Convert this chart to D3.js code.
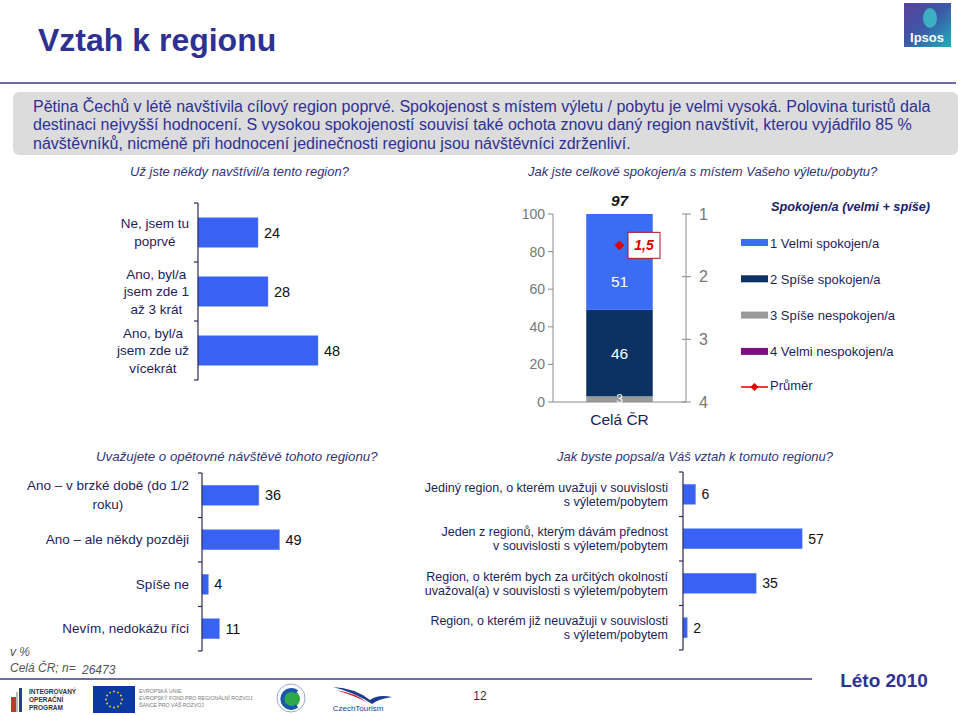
<!DOCTYPE html>
<html><head><meta charset="utf-8">
<script src="https://cdn.jsdelivr.net/npm/d3@7"></script>
<style>
body{margin:0;background:#fff;}
svg{display:block;font-family:"Liberation Sans",Arial,sans-serif;}
</style></head>
<body>
<svg id="c" width="960" height="715"></svg>
<script>
// ---------- DATA ----------
const titleText = "Vztah k regionu";
const introLines = [
  "Pětina Čechů v létě navštívila cílový region poprvé. Spokojenost s místem výletu / pobytu je velmi vysoká. Polovina turistů dala",
  "destinaci nejvyšší hodnocení. S vysokou spokojeností souvisí také ochota znovu daný region navštívit, kterou vyjádřilo 85 %",
  "návštěvníků, nicméně při hodnocení jedinečnosti regionu jsou návštěvníci zdrženliví."
];

const q1Title = "Už jste někdy navštívil/a tento region?";
const q1Cats = [["Ne, jsem tu","poprvé"],["Ano, byl/a","jsem zde 1","až 3 krát"],["Ano, byl/a","jsem zde už","vícekrát"]];
const q1Vals = [24, 28, 48];

const q2Title = "Jak jste celkově spokojen/a s místem Vašeho výletu/pobytu?";
const q2Cat = "Celá ČR";
const q2Series = ["1 Velmi spokojen/a","2 Spíše spokojen/a","3 Spíše nespokojen/a","4 Velmi nespokojen/a"];
const q2Vals = [51, 46, 3, 0];   // velmi spokojen, spíše spokojen, spíše nespokojen, velmi nespokojen
const q2Total = 97;
const q2Mean = 1.5;
const q2MeanLabel = "1,5";
const q2LeftTicks = [0, 20, 40, 60, 80, 100];
const q2RightTicks = [1, 2, 3, 4];
const q2LegendTitle = "Spokojen/a (velmi + spíše)";
const q2MeanName = "Průměr";

const q3Title = "Uvažujete o opětovné návštěvě  tohoto regionu?";
const q3Cats = [["Ano – v brzké době (do 1/2","roku)"],["Ano – ale někdy později"],["Spíše ne"],["Nevím, nedokážu říci"]];
const q3Vals = [36, 49, 4, 11];

const q4Title = "Jak byste popsal/a Váš vztah k tomuto regionu?";
const q4Cats = [["Jediný region, o kterém uvažuji v souvislosti","s výletem/pobytem"],["Jeden z regionů, kterým dávám přednost","v souvislosti s výletem/pobytem"],["Region, o kterém bych za určitých okolností","uvažoval(a) v souvislosti s výletem/pobytem"],["Region, o kterém již neuvažuji v souvislosti","s výletem/pobytem"]];
const q4Vals = [6, 57, 35, 2];

const footUnit = "v %";
const footBase = "Celá ČR; n=";
const footN = "26473";
const pageNum = "12";
const season = "Léto 2010";

// ---------- STYLE ----------
const navy = "#2e3192";
const txt = "#1e1e5a";
const barBlue = "#3a62f2";
const q2Colors = ["#3b6cf4","#0b3262","#9a9a9a","#7f0f7e"];

const svg = d3.select("#c");

// Title & header
svg.append("text").attr("x",38).attr("y",51).attr("font-size",32).attr("font-weight","bold")
  .attr("fill",navy).text(titleText);
svg.append("line").attr("x1",0).attr("x2",956).attr("y1",83).attr("y2",83).attr("stroke","#3b3b8a").attr("stroke-width",1.5);

// Ipsos logo
const lg = svg.append("defs").append("linearGradient").attr("id","ipg").attr("x1","0").attr("x2","1").attr("y1","0").attr("y2","1");
lg.append("stop").attr("offset","0").attr("stop-color","#5a3f9a");
lg.append("stop").attr("offset","0.5").attr("stop-color","#3b5aa8");
lg.append("stop").attr("offset","1").attr("stop-color","#1fb0b8");
svg.append("rect").attr("x",904).attr("y",3).attr("width",47).attr("height",44).attr("fill","url(#ipg)");
svg.append("ellipse").attr("cx",930).attr("cy",18).attr("rx",7).attr("ry",10).attr("fill","#3dc0c8").attr("opacity",0.85);
svg.append("text").attr("x",927).attr("y",42).attr("text-anchor","middle").attr("font-size",13).attr("font-weight","bold").attr("fill","#fff").text("Ipsos");

// Intro box
svg.append("rect").attr("x",13).attr("y",92).attr("width",945).attr("height",63).attr("rx",6).attr("fill","#dcdcdc");
introLines.forEach((l,i)=>{
  svg.append("text").attr("x",33).attr("y",111.5+i*18.5).attr("font-size",16).attr("fill",navy).text(l);
});

function question(x,y,t,fs){
  svg.append("text").attr("x",x).attr("y",y).attr("font-size",fs||13).attr("font-style","italic").attr("fill","#33337a").text(t);
}

// Multi-line label helper
function multiLabel(g, lines, rightX, cy, fs, lh, align){
  const t = g.append("text").attr("font-size",fs).attr("fill",txt);
  const n = lines.length;
  const spans = lines.map((l,i)=> t.append("tspan").attr("y", cy + (i-(n-1)/2)*lh).attr("dy","0.35em").text(l));
  if(align==="center"){
    const maxW = d3.max(spans,s=>s.node().getComputedTextLength());
    spans.forEach(s=> s.attr("x", rightX - maxW/2).attr("text-anchor","middle"));
  } else {
    spans.forEach(s=> s.attr("x", rightX).attr("text-anchor","end"));
  }
}

function hbar(cfg){
  const {cats, vals, x0, pxPer, y0, y1, padIn, padOut, labelRight, fs, lh, align, valFs} = cfg;
  const idx = cats.map((c,i)=>i);
  const y = d3.scaleBand().domain(idx).range([y0,y1]).paddingInner(padIn).paddingOuter(padOut);
  const x = d3.scaleLinear().domain([0,100]).range([x0, x0+100*pxPer]);
  const g = svg.append("g");
  g.selectAll("rect").data(vals).join("rect")
    .attr("x",x(0)).attr("y",(d,i)=>y(i)).attr("width",d=>x(d)-x(0)).attr("height",y.bandwidth())
    .attr("fill",barBlue).attr("stroke","#6f8ff8").attr("stroke-width",0.5);
  g.selectAll("text.v").data(vals).join("text").attr("class","v")
    .attr("x",d=>x(d)+6).attr("y",(d,i)=>y(i)+y.bandwidth()/2).attr("dy","0.35em")
    .attr("font-size",valFs).attr("fill","#111").text(d=>d);
  const ax = g.append("g").attr("stroke","#2a2a55").attr("stroke-width",1.2);
  ax.append("line").attr("x1",x0).attr("x2",x0).attr("y1",y0).attr("y2",y1);
  const step = y.step();
  d3.range(cats.length+1).forEach(i=>{
    const yy = y0 + i*step;
    ax.append("line").attr("x1",x0-4).attr("x2",x0).attr("y1",yy).attr("y2",yy);
  });
  cats.forEach((c,i)=> multiLabel(g, c, labelRight, y(i)+y.bandwidth()/2, fs, lh, align));
}

// Q1
question(130,176,q1Title,13);
hbar({cats:q1Cats, vals:q1Vals, x0:198, pxPer:2.5, y0:203, y1:380, padIn:0.5, padOut:0.25,
      labelRight:189, fs:13.5, lh:17.5, align:"center", valFs:14.5});

// Q3
question(96,461,q3Title,13.3);
hbar({cats:q3Cats, vals:q3Vals, x0:202, pxPer:1.58, y0:473, y1:651, padIn:0.55, padOut:0.275,
      labelRight:189, fs:13.5, lh:19, align:"center", valFs:14.5});

// Q4
question(557,461,q4Title,13);
hbar({cats:q4Cats, vals:q4Vals, x0:683, pxPer:2.09, y0:472, y1:650, padIn:0.55, padOut:0.275,
      labelRight:668, fs:12.5, lh:14, align:"right", valFs:14});

// Q2 stacked chart
question(528,176,q2Title,13);
(function(){
  const g = svg.append("g");
  const y = d3.scaleLinear().domain([0,100]).range([402,214]);
  const yr = d3.scaleLinear().domain([1,4]).range([214,402]);
  const x = d3.scaleBand().domain([q2Cat]).range([553,686]).paddingInner(0.5).paddingOuter(0.25);
  const order = [3,2,1,0];
  let acc = 0;
  const segs = order.map(k=>{ const s={k, a:acc, b:acc+q2Vals[k]}; acc+=q2Vals[k]; return s; });
  g.selectAll("rect").data(segs.filter(s=>s.b>s.a)).join("rect")
    .attr("x",x(q2Cat)).attr("width",x.bandwidth())
    .attr("y",d=>y(d.b)).attr("height",d=>y(d.a)-y(d.b)).attr("fill",d=>q2Colors[d.k]);
  const gray="#8a8a8a";
  g.append("line").attr("x1",553).attr("x2",553).attr("y1",y(100)).attr("y2",y(0)).attr("stroke",gray);
  g.append("line").attr("x1",553).attr("x2",686).attr("y1",y(0)).attr("y2",y(0)).attr("stroke",gray);
  g.append("line").attr("x1",686).attr("x2",686).attr("y1",yr(1)).attr("y2",yr(4)).attr("stroke",gray);
  q2LeftTicks.forEach(t=>{
    g.append("line").attr("x1",548).attr("x2",553).attr("y1",y(t)).attr("y2",y(t)).attr("stroke",gray);
    g.append("text").attr("x",545).attr("y",y(t)).attr("dy","0.35em").attr("text-anchor","end")
      .attr("font-size",14).attr("fill","#777").text(t);
  });
  q2RightTicks.forEach(t=>{
    g.append("line").attr("x1",682).attr("x2",691).attr("y1",yr(t)).attr("y2",yr(t)).attr("stroke",gray);
    g.append("text").attr("x",699).attr("y",yr(t)).attr("dy","0.35em")
      .attr("font-size",16).attr("fill","#777").text(t);
  });
  const cx = x(q2Cat)+x.bandwidth()/2;
  segs.filter(s=>s.b>s.a).forEach(s=>{
    let yy = (y(s.a)+y(s.b))/2;
    if(s.k===0) yy = y(s.a + (s.b-s.a)*0.3);
    g.append("text").attr("x",cx).attr("y",yy).attr("dy","0.35em").attr("text-anchor","middle")
      .attr("font-size",s.k===2?12:15.5).attr("fill","#fff").text(q2Vals[s.k]);
  });
  g.append("text").attr("x",cx).attr("y",206).attr("text-anchor","middle").attr("font-size",15.5)
    .attr("font-weight","bold").attr("font-style","italic").attr("fill","#111").text(q2Total);
  g.append("text").attr("x",cx).attr("y",420).attr("dy","0.35em").attr("text-anchor","middle")
    .attr("font-size",15.5).attr("fill",txt).text(q2Cat);
  const my = yr(q2Mean);
  g.append("path").attr("d",d3.symbol(d3.symbolDiamond2,60)()).attr("transform",`translate(${cx},${my})`).attr("fill","#e00000");
  g.append("rect").attr("x",628).attr("y",my-13).attr("width",32).attr("height",26).attr("fill","#fff")
    .attr("stroke","#b01020").attr("stroke-width",1);
  g.append("text").attr("x",644).attr("y",my).attr("dy","0.35em").attr("text-anchor","middle")
    .attr("font-size",14).attr("font-weight","bold").attr("font-style","italic").attr("fill","#e00000").text(q2MeanLabel);

  // legend
  const L = svg.append("g");
  L.append("text").attr("x",771).attr("y",211).attr("font-size",12.7).attr("font-weight","bold")
    .attr("font-style","italic").attr("fill","#22226a").text(q2LegendTitle);
  q2Series.forEach((s,i)=>{
    const yy = 243 + i*36.3;
    L.append("rect").attr("x",741).attr("y",yy-4).attr("width",27).attr("height",7).attr("fill",q2Colors[i]);
    L.append("text").attr("x",770).attr("y",yy).attr("dy","0.35em").attr("font-size",13).attr("fill",txt).text(s);
  });
  const py = 387;
  L.append("line").attr("x1",741).attr("x2",768).attr("y1",py).attr("y2",py).attr("stroke","#e00000").attr("stroke-width",1.5);
  L.append("path").attr("d",d3.symbol(d3.symbolDiamond2,40)()).attr("transform",`translate(754.5,${py})`).attr("fill","#e00000");
  L.append("text").attr("x",770).attr("y",py-2).attr("dy","0.35em").attr("font-size",13).attr("fill",txt).text(q2MeanName);
})();

// Footer
svg.append("text").attr("x",10).attr("y",656).attr("font-size",12).attr("font-style","italic").attr("fill","#555").text(footUnit);
svg.append("text").attr("x",10).attr("y",672).attr("font-size",12).attr("font-style","italic").attr("fill","#555").text(footBase);
svg.append("text").attr("x",82).attr("y",674).attr("font-size",12).attr("font-style","italic").attr("fill","#555").text(footN);
svg.append("line").attr("x1",0).attr("x2",812).attr("y1",679).attr("y2",679).attr("stroke","#3b3b8a").attr("stroke-width",1.5);
svg.append("text").attr("x",884).attr("y",687).attr("text-anchor","middle").attr("font-size",19).attr("font-weight","bold").attr("fill",navy).text(season);
svg.append("text").attr("x",480).attr("y",700).attr("text-anchor","middle").attr("font-size",12).attr("fill","#333").text(pageNum);

// logos (decorative)
const F = svg.append("g");
F.append("rect").attr("x",11).attr("y",697).attr("width",5).attr("height",15).attr("fill","#c0392b");
F.append("rect").attr("x",16).attr("y",692).attr("width",2).attr("height",20).attr("fill","#bbb");
F.append("rect").attr("x",19).attr("y",688).attr("width",3).attr("height",24).attr("fill","#2a3c8f");
["INTEGROVANÝ","OPERAČNÍ","PROGRAM"].forEach((t,i)=>F.append("text").attr("x",29).attr("y",694+i*8).attr("font-size",6.5).attr("font-weight","bold").attr("fill","#333").text(t));
F.append("rect").attr("x",93).attr("y",686).attr("width",42).attr("height",27).attr("fill","#0a3aa0");
d3.range(12).forEach(i=>{const a=i/12*2*Math.PI;F.append("circle").attr("cx",114+8*Math.cos(a)).attr("cy",699.5+8*Math.sin(a)).attr("r",0.9).attr("fill","#ffdd00");});
["EVROPSKÁ UNIE","EVROPSKÝ FOND PRO REGIONÁLNÍ ROZVOJ","ŠANCE PRO VÁŠ ROZVOJ"].forEach((t,i)=>F.append("text").attr("x",139).attr("y",693+i*7).attr("font-size",5.2).attr("fill","#777").text(t));
F.append("circle").attr("cx",291).attr("cy",698).attr("r",14).attr("fill","#fff").attr("stroke","#9ac").attr("stroke-width",1);
F.append("circle").attr("cx",291).attr("cy",699).attr("r",9).attr("fill","#2ea84a");
F.append("path").attr("d","M297,692 A9,9 0 1,0 297,706").attr("fill","none").attr("stroke","#1a55b0").attr("stroke-width",4);
F.append("path").attr("d","M333,687 Q355,688 370,700 Q378,694 392,697 Q378,699 372,704 Q356,693 333,687Z").attr("fill","#1b3b8f");
F.append("path").attr("d","M336,690 Q356,693 368,703 Q358,697 336,690Z").attr("fill","#d02030");
F.append("text").attr("x",358).attr("y",711).attr("text-anchor","middle").attr("font-size",8).attr("fill","#1b3b8f").text("CzechTourism");
</script>
</body></html>
